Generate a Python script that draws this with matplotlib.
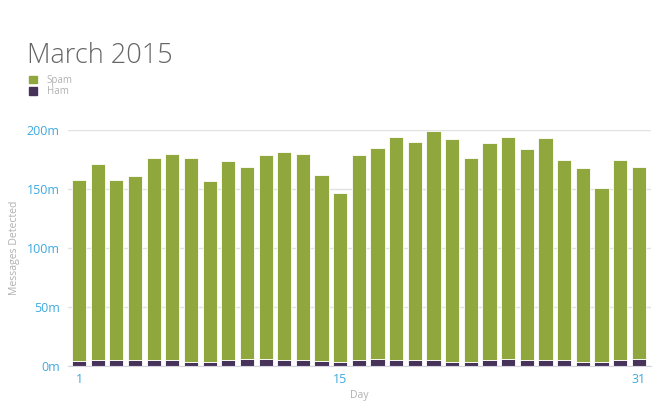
import numpy as np
import matplotlib.pyplot as plt
from matplotlib.patches import Patch

plt.rcParams['font.family'] = ['Open Sans', 'DejaVu Sans']

# data (millions of messages per day)
days = list(range(1, 32))
ham = [4.2, 4.8, 4.8, 4.8, 4.8, 4.8, 3.7, 3.7, 4.8, 5.6, 5.6, 4.8, 4.8, 4.2, 3.7, 4.8,
       5.6, 4.8, 4.8, 4.8, 3.7, 3.7, 4.8, 5.6, 4.8, 4.8, 4.8, 3.7, 3.7, 4.8, 5.6]
spam = [153.8, 166.2, 152.8, 156.2, 171.2, 174.9, 172.3, 152.8, 168.7, 163.4, 173.4,
        176.2, 174.9, 157.8, 143.3, 174.0, 179.4, 189.0, 185.0, 194.2, 188.7, 172.3,
        184.5, 188.7, 179.2, 188.4, 169.8, 164.3, 147.3, 169.8, 163.0]
y_ticks = [0, 50, 100, 150, 200]
x_ticks = [1, 15, 31]

GREEN = '#8fa73c'
PURPLE = '#47335a'
BLUE = '#3fa9e0'
GRAY = '#b0b0b0'

fig = plt.figure(figsize=(6.6, 4.12), dpi=100)
ax = fig.add_axes([0.103, 0.1117, 0.883, 0.5728])

ax.bar(days, ham, width=0.76, color=PURPLE, edgecolor='white', linewidth=0.6, zorder=3)
ax.bar(days, spam, width=0.76, bottom=ham, color=GREEN, edgecolor='white', linewidth=0.6, zorder=3)

ax.set_xlim(0.41, 31.64)
ax.set_ylim(0, 200)
ax.set_yticks(y_ticks)
ax.set_yticklabels([f'{v}m' for v in y_ticks])
ax.set_xticks(x_ticks)
ax.tick_params(axis='y', length=0, pad=6, labelsize=9, labelcolor=BLUE)
ax.tick_params(axis='x', length=0, pad=5, labelsize=9, labelcolor=BLUE)
ax.grid(axis='y', color='#e2e2e2', linewidth=1, zorder=0)
for s in ['top', 'right', 'left']:
    ax.spines[s].set_visible(False)
ax.spines['bottom'].set_color('#d8d4de')
ax.spines['bottom'].set_zorder(4)

ax.set_xlabel('Day', fontsize=7.5, color=GRAY, labelpad=3)
ax.set_ylabel('Messages Detected', fontsize=7.5, color=GRAY)
ax.yaxis.set_label_coords(-0.083, 0.5)

fig.text(0.041, 0.847, 'March 2015', fontsize=19.5, color='#666666',
         fontweight='light', va='baseline')

handles = [Patch(color=GREEN, label='Spam'), Patch(color=PURPLE, label='Ham')]
leg = fig.legend(handles=handles, loc='upper left', bbox_to_anchor=(0.044, 0.818),
                 frameon=False, fontsize=7, handlelength=0.8, handleheight=0.8,
                 handletextpad=1.0, labelspacing=0.05, borderaxespad=0, borderpad=0)
for t in leg.get_texts():
    t.set_color(GRAY)

fig.savefig('out.png', dpi=100)
